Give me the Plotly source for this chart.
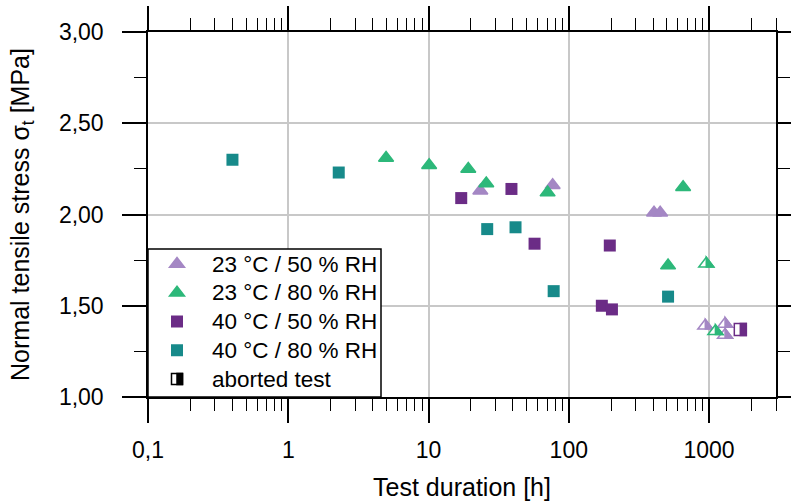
import math
import plotly.graph_objects as go

# ---------------- data ----------------
lilac_x = [23.4, 76.7, 405, 448]
lilac_y = [2.13, 2.16, 2.01, 2.01]
lilac_ab_x = [940, 1300, 1300]
lilac_ab_y = [1.39, 1.40, 1.34]

green_x = [4.98, 10.1, 19.2, 25.8, 70.6, 653, 510]
green_y = [2.31, 2.27, 2.25, 2.17, 2.12, 2.15, 1.72]
green_ab_x = [955, 1110]
green_ab_y = [1.73, 1.36]

purple_x = [17.1, 39, 57, 196, 172, 203]
purple_y = [2.09, 2.14, 1.84, 1.83, 1.50, 1.48]
purple_ab_x = [1670]
purple_ab_y = [1.37]

teal_x = [0.40, 2.29, 26.2, 41.7, 78, 510]
teal_y = [2.30, 2.23, 1.92, 1.93, 1.58, 1.55]

names = ["23 °C / 50 % RH", "23 °C / 80 % RH", "40 °C / 50 % RH", "40 °C / 80 % RH", "aborted test"]

C_LILAC = "#a487c4"
C_GREEN = "#2db87a"
C_PURPLE = "#6b2c86"
C_TEAL = "#178a8a"

FONT = "Liberation Sans, Arial, sans-serif"
TRI = 13
SQ = 12

fig = go.Figure()

def tri_trace(x, y, name, color):
    return go.Scatter(x=x, y=y, mode="markers", name=name, showlegend=False,
                      marker=dict(symbol="triangle-up", size=TRI, color=color,
                                  line=dict(color=color, width=1.5)))

def sq_trace(x, y, name, color):
    return go.Scatter(x=x, y=y, mode="markers", name=name, showlegend=False,
                      marker=dict(symbol="square", size=SQ, color=color,
                                  line=dict(width=0)))

fig.add_trace(tri_trace(lilac_x, lilac_y, names[0], C_LILAC))
fig.add_trace(tri_trace(green_x, green_y, names[1], C_GREEN))
fig.add_trace(sq_trace(purple_x, purple_y, names[2], C_PURPLE))
fig.add_trace(sq_trace(teal_x, teal_y, names[3], C_TEAL))

# marker geometry (pixel paths, y up)
rt = TRI / 2 * 2 / math.sqrt(3)
r2 = TRI / 4
rs = TRI / 2
tri_full = f"M{-rt:.2f},{-r2:.2f} L{rt:.2f},{-r2:.2f} L0,{rs:.2f} Z"
tri_half = f"M0,{-r2:.2f} L{rt:.2f},{-r2:.2f} L0,{rs:.2f} Z"
h = SQ / 2
sq_full = f"M{-h},{-h} L{h},{-h} L{h},{h} L{-h},{h} Z"
sq_half = f"M0,{-h} L{h},{-h} L{h},{h} L0,{h} Z"

def shift_path(path, dx, dy):
    out = []
    for tok in path.split():
        cmd = tok[0]
        if cmd == "Z":
            out.append("Z")
            continue
        a, b = tok[1:].split(",")
        out.append(f"{cmd}{float(a) + dx:.2f},{float(b) + dy:.2f}")
    return " ".join(out)

shapes = []
annotations = []

# aborted (half-filled) markers drawn as pixel-sized shapes anchored at data points
def half_marker(xs, ys, color, full, half):
    for xv, yv in zip(xs, ys):
        common = dict(type="path", xref="x", yref="y", xsizemode="pixel", ysizemode="pixel",
                      xanchor=xv, yanchor=yv, layer="above")
        shapes.append(dict(path=full, fillcolor="white", line=dict(color=color, width=1.5), **common))
        shapes.append(dict(path=half, fillcolor=color, line=dict(color=color, width=1.5), **common))

half_marker(lilac_ab_x, lilac_ab_y, C_LILAC, tri_full, tri_half)
half_marker(green_ab_x, green_ab_y, C_GREEN, tri_full, tri_half)
half_marker(purple_ab_x, purple_ab_y, C_PURPLE, sq_full, sq_half)

# ---------------- legend (box, icons, texts) ----------------
LEG_W, LEG_H = 233, 148
ICON_X, TEXT_X = 29, 62
ROW0, ROW_STEP = 133, 28.75

shapes.append(dict(type="rect", xref="paper", yref="paper",
                   xsizemode="pixel", ysizemode="pixel", xanchor=0, yanchor=0,
                   x0=0, x1=LEG_W, y0=0, y1=LEG_H,
                   fillcolor="white", line=dict(color="black", width=1.5), layer="above"))

legend_icons = [
    (tri_full, None, C_LILAC, C_LILAC),
    (tri_full, None, C_GREEN, C_GREEN),
    (sq_full, None, C_PURPLE, None),
    (sq_full, None, C_TEAL, None),
    (sq_full, sq_half, "white", "black"),
]
for i, (full, half, fill, line_c) in enumerate(legend_icons):
    ry = ROW0 - i * ROW_STEP
    common = dict(type="path", xref="paper", yref="paper", xsizemode="pixel", ysizemode="pixel",
                  xanchor=0, yanchor=0, layer="above")
    if half is None:
        ln = dict(color=line_c, width=1.5) if line_c else dict(width=0)
        shapes.append(dict(path=shift_path(full, ICON_X, ry), fillcolor=fill, line=ln, **common))
    else:
        small_full = f"M-5.5,-5.5 L5.5,-5.5 L5.5,5.5 L-5.5,5.5 Z"
        small_half = f"M0,-5.5 L5.5,-5.5 L5.5,5.5 L0,5.5 Z"
        shapes.append(dict(path=shift_path(small_full, ICON_X, ry), fillcolor="white",
                           line=dict(color=line_c, width=1.5), **common))
        shapes.append(dict(path=shift_path(small_half, ICON_X, ry), fillcolor=line_c,
                           line=dict(color=line_c, width=1.5), **common))
    annotations.append(dict(text=names[i], xref="paper", yref="paper", x=0, y=0,
                            xanchor="left", yanchor="middle", xshift=TEXT_X, yshift=ry,
                            showarrow=False, font=dict(size=22.5, family=FONT, color="black")))

axis_common = dict(ticks="outside", ticklen=24, tickwidth=1.5, tickcolor="black",
                   showline=True, linecolor="black", linewidth=1.5, mirror="ticks",
                   showgrid=True, gridcolor="#c8c8c8", gridwidth=1.5, zeroline=False,
                   automargin=False,
                   tickfont=dict(size=23, color="black", family=FONT))

fig.update_xaxes(type="log", range=[-1, math.log10(3000)], dtick=1, tick0=0,
                 exponentformat="none",
                 minor=dict(ticks="outside", ticklen=12, tickwidth=1.2, tickcolor="black",
                            dtick="D1", showgrid=False),
                 title=dict(text="Test duration [h]", font=dict(size=25, family=FONT), standoff=16),
                 ticklabelstandoff=8,
                 **axis_common)
fig.update_yaxes(range=[1, 3], dtick=0.5, tick0=1, tickformat=".2f",
                 minor=dict(ticks="outside", ticklen=12, tickwidth=1.2, tickcolor="black",
                            dtick=0.25, showgrid=False),
                 title=dict(text="Normal tensile stress σ<sub>t</sub> [MPa]",
                            font=dict(size=25, family=FONT), standoff=22),
                 ticklabelstandoff=14,
                 **axis_common)

fig.update_layout(
    width=791, height=504,
    margin=dict(l=148, r=15, t=32, b=107, autoexpand=False),
    paper_bgcolor="white", plot_bgcolor="white",
    separators=", ",
    font=dict(family=FONT, color="black", size=22),
    showlegend=False,
    shapes=shapes,
    annotations=annotations,
)

fig.write_html("out.html")
